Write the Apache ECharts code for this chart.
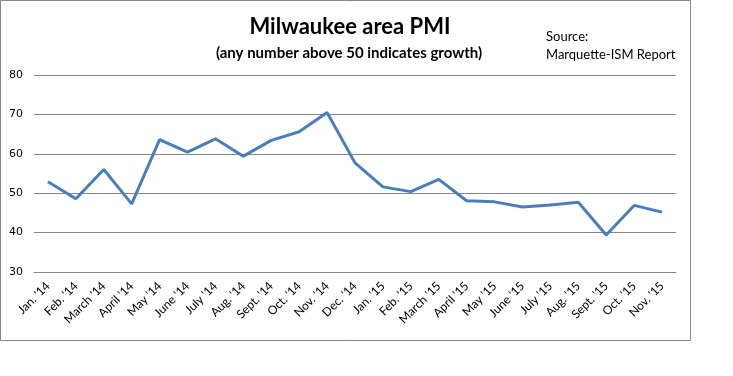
<!DOCTYPE html>
<html lang="en">

<head>
    <meta charset="UTF-8">
    <title>Milwaukee area PMI</title>
    <script src="https://cdn.jsdelivr.net/npm/echarts@6.0.0/dist/echarts.min.js"></script>
    <style>
        html, body {
            margin: 0;
            padding: 0;
            background: #fff;
        }

        #chart {
            width: 733px;
            height: 376px;
        }
    </style>
</head>

<body>
    <div id="chart"></div>

    <script>
        // months on the x axis
        var months = ["Jan. '14", "Feb. '14", "March '14", "April '14", "May '14", "June '14",
            "July '14", "Aug. '14", "Sept. '14", "Oct. '14", "Nov. '14", "Dec. '14",
            "Jan. '15", "Feb. '15", "March '15", "April '15", "May '15", "June '15",
            "July '15", "Aug. '15", "Sept. '15", "Oct. '15", "Nov. '15"];
        // PMI values
        var pmi = [52.9, 48.6, 56.0, 47.3, 63.6, 60.4, 63.8, 59.4, 63.4, 65.6, 70.5, 57.7,
            51.6, 50.4, 53.5, 48.1, 47.8, 46.5, 47.0, 47.7, 39.4, 46.9, 45.2];
        var yMin = 30;
        var yMax = 80;
        var yStep = 10;

        var font = 'Lato, "Open Sans", sans-serif';
        var myChart = echarts.init(document.getElementById('chart'));

        var option = {
            animation: false,
            title: [
                {
                    text: 'Milwaukee area PMI',
                    left: 345,
                    top: 11,
                    textAlign: 'center',
                    textStyle: { fontFamily: font, fontSize: 22, fontWeight: 'bold', color: '#000' }
                },
                {
                    text: '(any number above 50 indicates growth)',
                    left: 344,
                    top: 41,
                    textAlign: 'center',
                    textStyle: { fontFamily: font, fontSize: 15, fontWeight: 'bold', color: '#000' }
                },
                {
                    text: 'Source:\nMarquette-ISM Report',
                    left: 541,
                    top: 23,
                    textStyle: { fontFamily: font, fontSize: 13, fontWeight: 'normal', color: '#000', lineHeight: 18 }
                }
            ],
            graphic: [
                {
                    type: 'rect',
                    shape: { x: 0.5, y: 0.5, width: 690, height: 340 },
                    style: { fill: 'none', stroke: '#868686', lineWidth: 1 },
                    silent: true
                }
            ],
            grid: {
                left: 34,
                right: 57,
                top: 75,
                bottom: 104
            },
            xAxis: {
                type: 'category',
                data: months,
                boundaryGap: true,
                axisLine: { show: true, lineStyle: { color: '#868686', width: 1 } },
                axisTick: { show: false },
                axisLabel: {
                    interval: 0,
                    rotate: 45,
                    margin: 12,
                    fontFamily: font,
                    fontSize: 12,
                    color: '#000'
                }
            },
            yAxis: {
                type: 'value',
                min: yMin,
                max: yMax,
                interval: yStep,
                axisLine: { show: false },
                axisTick: { show: false },
                splitLine: { lineStyle: { color: '#868686', width: 1 } },
                axisLabel: {
                    margin: 11,
                    fontFamily: '"DejaVu Sans", Verdana, sans-serif',
                    fontSize: 11,
                    color: '#000'
                }
            },
            series: [
                {
                    name: 'PMI',
                    type: 'line',
                    data: pmi,
                    showSymbol: false,
                    symbol: 'none',
                    lineStyle: { color: '#4a7ebb', width: 3 },
                    itemStyle: { color: '#4a7ebb' }
                }
            ]
        };
        myChart.setOption(option);
    </script>
</body>

</html>
